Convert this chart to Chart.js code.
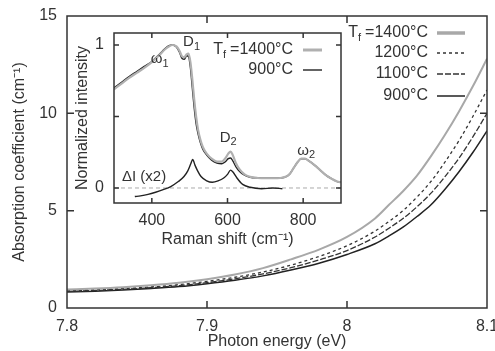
<!DOCTYPE html>
<html>
<head>
<meta charset="utf-8">
<script src="https://cdn.jsdelivr.net/npm/chart.js@4.4.1/dist/chart.umd.min.js"></script>
<style>
  html, body { margin: 0; padding: 0; background: #fff; }
  #wrap { position: relative; width: 495px; height: 351px; overflow: hidden; }
  #main { position: absolute; left: 0; top: 0; }
  #inset { position: absolute; left: 70px; top: 25px; }
</style>
</head>
<body>
<div id="wrap">
  <canvas id="main" width="495" height="351"></canvas>
  <canvas id="inset" width="280" height="225"></canvas>
</div>
<script>
// main panel: absorption coefficient vs photon energy
const photonEnergy = [7.80, 7.82, 7.84, 7.86, 7.88, 7.90, 7.92, 7.94, 7.96, 7.98, 8.00, 8.02, 8.03, 8.04, 8.05, 8.06, 8.07, 8.08, 8.09, 8.10];
const alpha1400 = [0.95, 1.00, 1.07, 1.17, 1.30, 1.48, 1.72, 2.05, 2.50, 3.00, 3.65, 4.60, 5.30, 6.00, 6.80, 7.80, 8.90, 10.10, 11.40, 12.80];
const alpha1200 = [0.88, 0.93, 1.00, 1.08, 1.20, 1.37, 1.58, 1.85, 2.20, 2.65, 3.20, 3.95, 4.45, 5.00, 5.70, 6.50, 7.50, 8.60, 9.85, 11.20];
const alpha1100 = [0.85, 0.90, 0.96, 1.04, 1.15, 1.30, 1.50, 1.75, 2.07, 2.47, 2.95, 3.65, 4.10, 4.60, 5.20, 5.90, 6.75, 7.70, 8.80, 10.00];
const alpha900  = [0.82, 0.86, 0.92, 1.00, 1.10, 1.25, 1.43, 1.65, 1.95, 2.30, 2.75, 3.30, 3.70, 4.15, 4.70, 5.30, 6.10, 7.00, 8.00, 9.10];
const mainLabels = ['1400°C', '1200°C', '1100°C', '900°C'];
const energyTicks = [7.8, 7.9, 8.0, 8.1];
const alphaTicks = [0, 5, 10, 15];

// inset: normalized Raman spectra
const ramanShift = [300, 320, 340, 360, 380, 400, 420, 435, 445, 455, 465, 473, 480, 486, 492, 497, 502, 507, 512, 517, 522, 528, 535, 545, 558, 572, 585, 595, 602, 608, 614, 622, 632, 645, 660, 680, 700, 720, 740, 755, 765, 775, 785, 795, 805, 815, 830, 845, 860, 875, 890, 900];
const raman900  = [0.70, 0.74, 0.78, 0.815, 0.85, 0.885, 0.935, 0.975, 0.995, 1.0, 0.985, 0.95, 0.905, 0.90, 0.925, 0.92, 0.84, 0.70, 0.56, 0.45, 0.38, 0.32, 0.27, 0.23, 0.195, 0.175, 0.17, 0.185, 0.205, 0.21, 0.19, 0.15, 0.115, 0.09, 0.075, 0.07, 0.068, 0.068, 0.07, 0.08, 0.10, 0.14, 0.18, 0.205, 0.205, 0.19, 0.16, 0.125, 0.09, 0.065, 0.045, 0.04];
const raman1400 = [0.69, 0.73, 0.77, 0.805, 0.84, 0.88, 0.93, 0.97, 0.99, 1.0, 0.99, 0.96, 0.92, 0.915, 0.935, 0.94, 0.88, 0.76, 0.62, 0.50, 0.41, 0.34, 0.285, 0.24, 0.205, 0.185, 0.185, 0.21, 0.24, 0.255, 0.23, 0.175, 0.13, 0.095, 0.078, 0.07, 0.068, 0.068, 0.07, 0.08, 0.10, 0.14, 0.18, 0.205, 0.205, 0.19, 0.16, 0.125, 0.09, 0.065, 0.045, 0.04];
const diffShift = [355, 370, 390, 410, 430, 450, 470, 485, 495, 503, 508, 514, 521, 530, 545, 560, 575, 590, 600, 608, 615, 625, 640, 660, 690, 720, 745];
const diffVals  = [-0.06, -0.055, -0.045, -0.03, -0.012, 0.01, 0.045, 0.08, 0.12, 0.17, 0.2, 0.16, 0.12, 0.08, 0.05, 0.04, 0.05, 0.07, 0.095, 0.125, 0.11, 0.07, 0.025, 0.005, -0.005, 0.0, -0.005];
const shiftTicks = [400, 600, 800];
const intensityTicks = [0, 0.5, 1];
const insetLabels = ['1400°C', '900°C'];

const FONT = 'Liberation Sans, Arial, Helvetica, sans-serif';
const INK = '#333';

function toPoints(xs, ys) {
  return xs.map((x, i) => ({ x: x, y: ys[i] }));
}

function fixTicks(values) {
  return function(scale) {
    scale.ticks = values.map(v => ({ value: v }));
  };
}

// text with a subscript part, e.g. T_f or D_1
function subText(ctx, x, y, base, sub, size, align) {
  ctx.font = size + 'px ' + FONT;
  const wb = ctx.measureText(base).width;
  ctx.font = Math.round(size * 0.7) + 'px ' + FONT;
  const ws = ctx.measureText(sub).width;
  let left = x;
  if (align === 'right') left = x - wb - ws;
  if (align === 'center') left = x - (wb + ws) / 2;
  ctx.textAlign = 'left';
  ctx.textBaseline = 'middle';
  ctx.font = size + 'px ' + FONT;
  ctx.fillText(base, left, y);
  ctx.font = Math.round(size * 0.7) + 'px ' + FONT;
  ctx.fillText(sub, left + wb, y + size * 0.3);
  return left;
}

function drawFrame(chart, tickLen) {
  const { ctx, chartArea: a, scales: { x, y } } = chart;
  ctx.save();
  ctx.strokeStyle = INK;
  ctx.lineWidth = 1.5;
  ctx.strokeRect(a.left, a.top, a.right - a.left, a.bottom - a.top);
  ctx.beginPath();
  x.ticks.forEach(t => {
    const px = x.getPixelForValue(t.value);
    if (px <= a.left + 1 || px >= a.right - 1) return;
    ctx.moveTo(px, a.bottom); ctx.lineTo(px, a.bottom - tickLen);
    ctx.moveTo(px, a.top); ctx.lineTo(px, a.top + tickLen);
  });
  y.ticks.forEach(t => {
    const py = y.getPixelForValue(t.value);
    if (py <= a.top + 1 || py >= a.bottom - 1) return;
    ctx.moveTo(a.left, py); ctx.lineTo(a.left + tickLen, py);
    ctx.moveTo(a.right, py); ctx.lineTo(a.right - tickLen, py);
  });
  ctx.stroke();
  ctx.restore();
}

function legendRow(ctx, ds, x0, x1, y) {
  ctx.save();
  ctx.strokeStyle = ds.borderColor;
  ctx.lineWidth = ds.legendWidth || ds.borderWidth;
  ctx.setLineDash(ds.borderDash || []);
  ctx.beginPath();
  ctx.moveTo(x0, y);
  ctx.lineTo(x1, y);
  ctx.stroke();
  ctx.restore();
}

// frame, inward ticks and legend of the main panel
const mainDecor = {
  id: 'mainDecor',
  afterDraw(chart) {
    const ctx = chart.ctx;
    drawFrame(chart, 7);
    ctx.save();
    ctx.fillStyle = INK;
    const rows = [33, 53, 74, 96];
    chart.data.datasets.forEach((ds, i) => {
      ctx.font = '16px ' + FONT;
      ctx.textAlign = 'right';
      ctx.textBaseline = 'middle';
      if (i === 0) {
        const w = ctx.measureText('=' + mainLabels[0]).width;
        ctx.fillText('=' + mainLabels[0], 428, rows[i]);
        subText(ctx, 428 - w - 4, rows[i], 'T', 'f', 16, 'right');
      } else {
        ctx.fillText(mainLabels[i], 428, rows[i]);
      }
      legendRow(ctx, ds, 437, 465, rows[i]);
    });
    ctx.restore();
  }
};

const insetDecor = {
  id: 'insetDecor',
  afterDraw(chart) {
    const ctx = chart.ctx;
    const { x, y } = chart.scales;
    drawFrame(chart, 5);
    ctx.save();
    ctx.fillStyle = INK;
    // legend
    const rows = [25, 45];
    [0, 1].forEach(i => {
      const ds = chart.data.datasets[i];
      ctx.font = '16px ' + FONT;
      ctx.textAlign = 'right';
      ctx.textBaseline = 'middle';
      if (i === 0) {
        const w = ctx.measureText('=' + insetLabels[0]).width;
        ctx.fillText('=' + insetLabels[0], 223, rows[i]);
        subText(ctx, 223 - w - 4, rows[i], 'T', 'f', 16, 'right');
      } else {
        ctx.fillText(insetLabels[i], 223, rows[i]);
      }
      legendRow(ctx, ds, 233, 252, rows[i]);
    });
    // peak names
    subText(ctx, x.getPixelForValue(421), y.getPixelForValue(0.9), 'ω', '1', 15, 'center');
    subText(ctx, x.getPixelForValue(505), y.getPixelForValue(1.02), 'D', '1', 15, 'center');
    subText(ctx, x.getPixelForValue(602), y.getPixelForValue(0.35), 'D', '2', 15, 'center');
    subText(ctx, x.getPixelForValue(808), y.getPixelForValue(0.26), 'ω', '2', 15, 'center');
    ctx.font = '15px ' + FONT;
    ctx.textAlign = 'left';
    ctx.textBaseline = 'middle';
    ctx.fillText('ΔI (x2)', x.getPixelForValue(321), y.getPixelForValue(0.077));
    ctx.restore();
  }
};

new Chart(document.getElementById('main'), {
  type: 'line',
  data: {
    datasets: [
      { label: mainLabels[0], data: toPoints(photonEnergy, alpha1400), borderColor: '#a8a8a8', borderWidth: 2, legendWidth: 3.5 },
      { label: mainLabels[1], data: toPoints(photonEnergy, alpha1200), borderColor: '#333', borderWidth: 1.3, borderDash: [3, 3] },
      { label: mainLabels[2], data: toPoints(photonEnergy, alpha1100), borderColor: '#333', borderWidth: 1.3, borderDash: [6, 2] },
      { label: mainLabels[3], data: toPoints(photonEnergy, alpha900), borderColor: '#222', borderWidth: 1.5 }
    ]
  },
  options: {
    responsive: false,
    animation: false,
    devicePixelRatio: 1,
    layout: { padding: { left: 0, top: 16, right: 8, bottom: 0 } },
    plugins: { legend: { display: false }, tooltip: { enabled: false } },
    elements: { point: { radius: 0 }, line: { cubicInterpolationMode: 'monotone', fill: false } },
    scales: {
      x: {
        type: 'linear', min: 7.8, max: 8.1,
        afterBuildTicks: fixTicks(energyTicks),
        afterFit: s => { s.height = 43; s.paddingLeft = 0; s.paddingRight = 0; },
        grid: { display: false, drawTicks: false },
        border: { display: false },
        ticks: {
          autoSkip: false, maxRotation: 0, padding: 9, color: INK,
          font: { family: FONT, size: 16 },
          callback: v => (Math.abs(v - 8) < 1e-9 ? '8' : v.toFixed(1))
        },
        title: { display: true, text: 'Photon energy (eV)', color: INK, font: { family: FONT, size: 16 }, padding: { top: 0, bottom: 0 } }
      },
      y: {
        type: 'linear', min: 0, max: 15,
        afterBuildTicks: fixTicks(alphaTicks),
        afterFit: s => { s.width = 67; s.paddingTop = 0; s.paddingBottom = 0; },
        grid: { display: false, drawTicks: false },
        border: { display: false },
        ticks: { autoSkip: false, padding: 10, color: INK, font: { family: FONT, size: 16 } },
        title: { display: true, text: 'Absorption coefficient (cm⁻¹)', color: INK, font: { family: FONT, size: 16 }, padding: { top: 10, bottom: 0 } }
      }
    }
  },
  plugins: [mainDecor]
});

new Chart(document.getElementById('inset'), {
  type: 'line',
  data: {
    datasets: [
      { label: insetLabels[0], data: toPoints(ramanShift, raman1400), borderColor: '#b0b0b0', borderWidth: 2.2, legendWidth: 3 },
      { label: insetLabels[1], data: toPoints(ramanShift, raman900), borderColor: '#222', borderWidth: 1.4 },
      { label: 'dI', data: toPoints(diffShift, diffVals), borderColor: '#222', borderWidth: 1.4 },
      { label: 'zero', data: toPoints([300, 900], [0, 0]), borderColor: '#aaa', borderWidth: 1, borderDash: [4, 3] }
    ]
  },
  options: {
    responsive: false,
    animation: false,
    devicePixelRatio: 1,
    layout: { padding: { left: 0, top: 8, right: 9, bottom: 0 } },
    plugins: { legend: { display: false }, tooltip: { enabled: false } },
    elements: { point: { radius: 0 }, line: { cubicInterpolationMode: 'monotone', fill: false } },
    scales: {
      x: {
        type: 'linear', min: 300, max: 900,
        afterBuildTicks: fixTicks(shiftTicks),
        afterFit: s => { s.height = 47; s.paddingLeft = 0; s.paddingRight = 0; },
        grid: { display: false, drawTicks: false },
        border: { display: false },
        ticks: { autoSkip: false, maxRotation: 0, padding: 8, color: INK, font: { family: FONT, size: 16 } },
        title: { display: true, text: 'Raman shift (cm⁻¹)', color: INK, font: { family: FONT, size: 16 }, padding: { top: 0, bottom: 1 } }
      },
      y: {
        type: 'linear', min: -0.105, max: 1.084,
        afterBuildTicks: fixTicks(intensityTicks),
        afterFit: s => { s.width = 44; s.paddingTop = 0; s.paddingBottom = 0; },
        grid: { display: false, drawTicks: false },
        border: { display: false },
        ticks: { autoSkip: false, padding: 10, color: INK, font: { family: FONT, size: 16 }, callback: v => (v === 0.5 ? '' : String(v)) },
        title: { display: true, text: 'Normalized intensity', color: INK, font: { family: FONT, size: 16 }, padding: { top: 3, bottom: 0 } }
      }
    }
  },
  plugins: [insetDecor]
});
</script>
</body>
</html>
